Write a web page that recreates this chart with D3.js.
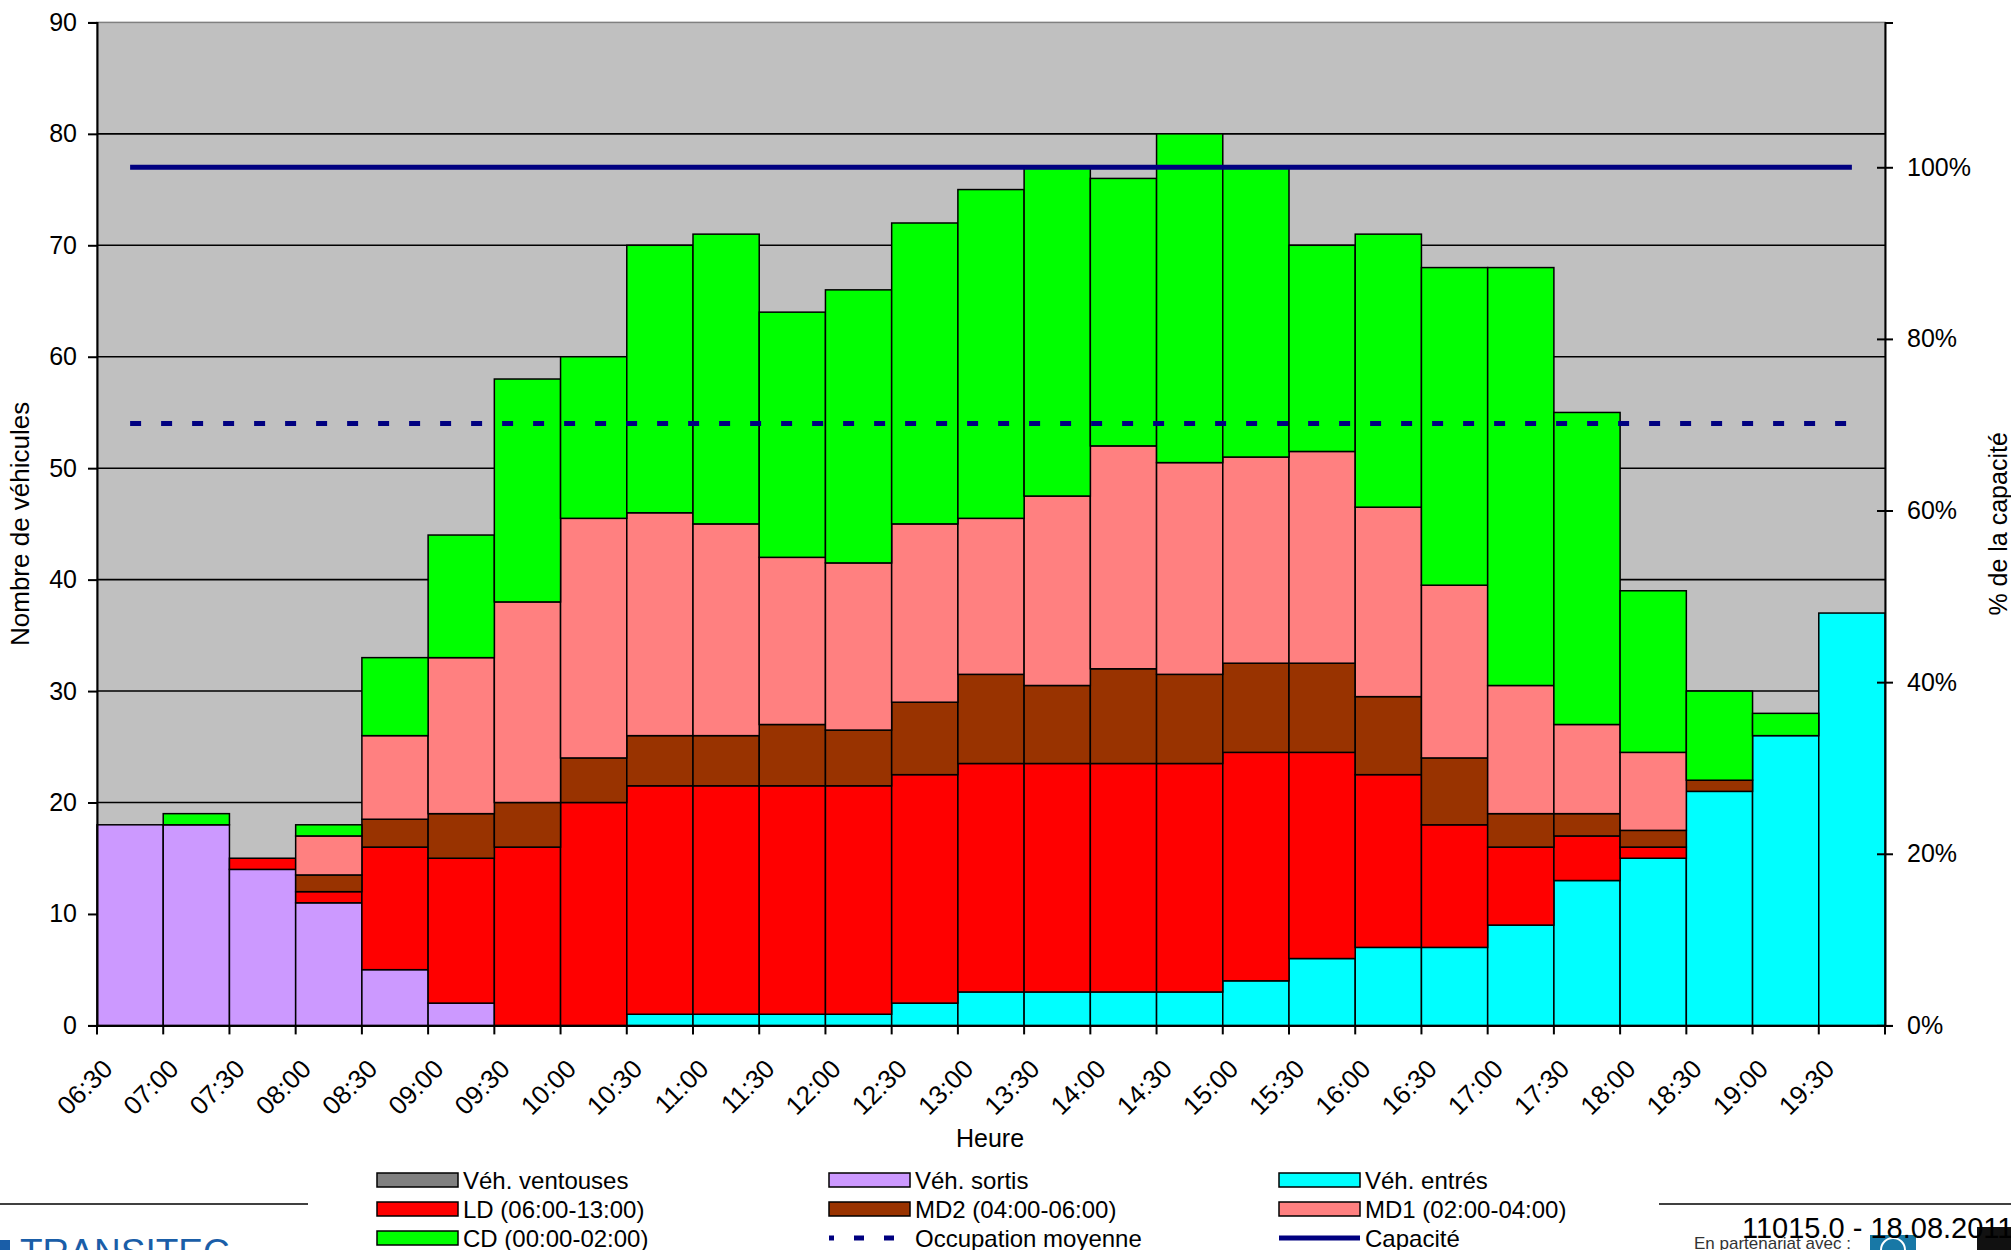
<!DOCTYPE html>
<html>
<head>
<meta charset="utf-8">
<script src="https://cdn.jsdelivr.net/npm/d3@7"></script>
<style>
html,body{margin:0;padding:0;background:#fff;}
svg{display:block;}
text{font-family:"Liberation Sans",Arial,sans-serif;fill:#000;}
</style>
</head>
<body>
<svg id="chart" width="2011" height="1250"></svg>
<script>
// ---------- DATA ----------
const categories = ["06:30","07:00","07:30","08:00","08:30","09:00","09:30","10:00","10:30","11:00","11:30","12:00","12:30","13:00","13:30","14:00","14:30","15:00","15:30","16:00","16:30","17:00","17:30","18:00","18:30","19:00","19:30"];
const vehVentouses = [0,0,0,0,0,0,0,0,0,0,0,0,0,0,0,0,0,0,0,0,0,0,0,0,0,0,0];
const vehEntres    = [0,0,0,0,0,0,0,0,1,1,1,1,2,3,3,3,3,4,6,7,7,9,13,15,21,26,37];
const vehSortis    = [18,18,14,11,5,2,0,0,0,0,0,0,0,0,0,0,0,0,0,0,0,0,0,0,0,0,0];
const ld  = [0,0,1,1,11,13,16,20,20.5,20.5,20.5,20.5,20.5,20.5,20.5,20.5,20.5,20.5,18.5,15.5,11,7,4,1,0,0,0];
const md2 = [0,0,0,1.5,2.5,4,4,4,4.5,4.5,5.5,5,6.5,8,7,8.5,8,8,8,7,6,3,2,1.5,1,0,0];
const md1 = [0,0,0,3.5,7.5,14,18,21.5,20,19,15,15,16,14,17,20,19,18.5,19,17,15.5,11.5,8,7,0,0,0];
const cd  = [0,1,0,1,7,11,20,14.5,24,26,22,24.5,27,29.5,29.5,24,29.5,26,18.5,24.5,28.5,37.5,28,14.5,8,2,0];
const occupationMoyenne = 54;
const capacite = 77;
const leftTicks = [0,10,20,30,40,50,60,70,80,90];
const rightTicks = [0,0.2,0.4,0.6,0.8,1.0];

const seriesKeys = ["ventouses","entres","sortis","ld","md2","md1","cd"];
const seriesNames = {ventouses:"Véh. ventouses",sortis:"Véh. sortis",entres:"Véh. entrés",ld:"LD (06:00-13:00)",md2:"MD2 (04:00-06:00)",md1:"MD1 (02:00-04:00)",cd:"CD (00:00-02:00)"};
const colors = {ventouses:"#808080",sortis:"#CC99FF",entres:"#00FFFF",ld:"#FF0000",md2:"#993300",md1:"#FF8080",cd:"#00FF00"};
const lineColor = "#000080";

const table = categories.map((c,i)=>({cat:c,ventouses:vehVentouses[i],entres:vehEntres[i],sortis:vehSortis[i],ld:ld[i],md2:md2[i],md1:md1[i],cd:cd[i]}));

// ---------- LAYOUT ----------
const svg = d3.select("#chart");
const L = 97, R = 1885, T = 22.4, B = 1025.4;
const x = d3.scaleBand().domain(categories).range([L,R]).padding(0);
const y = d3.scaleLinear().domain([0,90]).range([B,T]);
const yR = d3.scaleLinear().domain([0,90/capacite]).range([B,T]);

// plot background
svg.append("rect").attr("x",L).attr("y",T).attr("width",R-L).attr("height",B-T)
  .attr("fill","#C0C0C0").attr("stroke","#808080").attr("stroke-width",1.5);

// gridlines
svg.append("g").selectAll("line").data(leftTicks.filter(d=>d>0&&d<90)).join("line")
  .attr("x1",L).attr("x2",R).attr("y1",d=>y(d)).attr("y2",d=>y(d))
  .attr("stroke","#000").attr("stroke-width",1.6);

// stacked bars
const stack = d3.stack().keys(seriesKeys);
const stacked = stack(table);
const gBars = svg.append("g");
stacked.forEach(s=>{
  gBars.append("g").attr("fill",colors[s.key]).selectAll("rect")
    .data(s.filter(d=>d[1]-d[0]>0)).join("rect")
    .attr("x",d=>x(d.data.cat)).attr("width",x.bandwidth())
    .attr("y",d=>y(d[1])).attr("height",d=>y(d[0])-y(d[1]))
    .attr("stroke","#000").attr("stroke-width",1.5);
});

// lines: occupation moyenne & capacité
const xc = c=>x(c)+x.bandwidth()/2;
const lineGen = d3.line().x(d=>xc(d.cat)).y(d=>y(d.v));
svg.append("path").datum(categories.map(c=>({cat:c,v:occupationMoyenne})))
  .attr("d",lineGen).attr("fill","none").attr("stroke",lineColor)
  .attr("stroke-width",5).attr("stroke-dasharray","11,20");
svg.append("path").datum(categories.map(c=>({cat:c,v:capacite})))
  .attr("d",lineGen).attr("fill","none").attr("stroke",lineColor)
  .attr("stroke-width",5);

// left axis
const axL = svg.append("g").attr("transform",`translate(${L},0)`)
  .call(d3.axisLeft(y).tickValues(leftTicks).tickSize(9).tickPadding(11).tickFormat(d3.format("d")));
axL.select(".domain").attr("stroke","#000").attr("stroke-width",2);
axL.selectAll(".tick line").attr("stroke","#000").attr("stroke-width",2);
axL.selectAll("text").attr("font-size",25).attr("font-family","Liberation Sans, Arial, sans-serif");

// right axis
const axR = svg.append("g").attr("transform",`translate(${R},0)`)
  .call(d3.axisRight(yR).tickValues(rightTicks).tickSize(8).tickPadding(14).tickFormat(d3.format(".0%")));
axR.select(".domain").attr("stroke","#000").attr("stroke-width",2);
axR.selectAll(".tick line").attr("x1",-8).attr("x2",8).attr("stroke","#000").attr("stroke-width",2);
axR.selectAll("text").attr("font-size",25).attr("font-family","Liberation Sans, Arial, sans-serif");

// bottom axis (boundary ticks + rotated labels)
const axB = svg.append("g").attr("transform",`translate(0,${B})`)
  .call(d3.axisBottom(x).tickSize(0).tickPadding(0));
axB.select(".domain").attr("stroke","#000").attr("stroke-width",2);
axB.selectAll(".tick text")
  .attr("font-size",26).attr("font-family","Liberation Sans, Arial, sans-serif")
  .attr("text-anchor","end").attr("dy",0).attr("y",0)
  .attr("transform","translate(-16,45) rotate(-45)");
const edges = categories.map(c=>x(c)).concat([R]);
svg.append("g").selectAll("line").data(edges).join("line")
  .attr("x1",d=>d).attr("x2",d=>d).attr("y1",B).attr("y2",B+9)
  .attr("stroke","#000").attr("stroke-width",2);

// axis titles
svg.append("text").attr("transform",`translate(29,${(T+B)/2}) rotate(-90)`)
  .attr("text-anchor","middle").attr("font-size",26).text("Nombre de véhicules");
svg.append("text").attr("transform",`translate(2007,${(T+B)/2}) rotate(-90)`)
  .attr("text-anchor","middle").attr("font-size",25).text("% de la capacité");
svg.append("text").attr("x",990).attr("y",1147).attr("text-anchor","middle").attr("font-size",25).text("Heure");

// legend
const legendItems = [
  {k:"ventouses",type:"box"},{k:"sortis",type:"box"},{k:"entres",type:"box"},
  {k:"ld",type:"box"},{k:"md2",type:"box"},{k:"md1",type:"box"},
  {k:"cd",type:"box"},{k:"occ",type:"dash",name:"Occupation moyenne"},{k:"cap",type:"line",name:"Capacité"}
];
const colX = [377,829,1279];
const rowY = [1180,1209,1238];
const gLeg = svg.append("g");
legendItems.forEach((it,i)=>{
  const cx0 = colX[i%3], cy0 = rowY[Math.floor(i/3)];
  if(it.type==="box"){
    gLeg.append("rect").attr("x",cx0).attr("y",cy0-7).attr("width",81).attr("height",14)
      .attr("fill",colors[it.k]).attr("stroke","#000").attr("stroke-width",1.5);
  } else {
    const ln = gLeg.append("line").attr("x1",cx0).attr("x2",cx0+81).attr("y1",cy0).attr("y2",cy0)
      .attr("stroke",lineColor).attr("stroke-width",5);
    if(it.type==="dash") ln.attr("stroke-dasharray","10,20").attr("stroke-dashoffset",5);
  }
  gLeg.append("text").attr("x",cx0+86).attr("y",cy0+8.5).attr("font-size",24)
    .text(it.name||seriesNames[it.k]);
});

// footer
svg.append("line").attr("x1",0).attr("x2",308).attr("y1",1204).attr("y2",1204).attr("stroke","#000").attr("stroke-width",1.5);
svg.append("line").attr("x1",1659).attr("x2",2011).attr("y1",1204).attr("y2",1204).attr("stroke","#000").attr("stroke-width",1.5);
svg.append("rect").attr("x",0).attr("y",1240).attr("width",10).attr("height",12).attr("fill","#1a5ea8");
svg.append("text").attr("x",20).attr("y",1265).attr("font-size",37).style("fill","#1a5ea8").text("TRANSITEC");
svg.append("rect").attr("x",1870).attr("y",1235).attr("width",46).attr("height",16).attr("fill","#1878a6");
svg.append("circle").attr("cx",1893).attr("cy",1250).attr("r",12).attr("fill","none").attr("stroke","#fff").attr("stroke-width",2);
svg.append("rect").attr("x",1977).attr("y",1227).attr("width",34).attr("height",24).attr("fill","#111");
svg.append("text").attr("x",1694).attr("y",1249).attr("font-size",17).style("fill","#333").text("En partenariat avec :");
svg.append("text").attr("x",1742).attr("y",1238).attr("font-size",29).text("11015.0 - 18.08.2011");
</script>
</body>
</html>
